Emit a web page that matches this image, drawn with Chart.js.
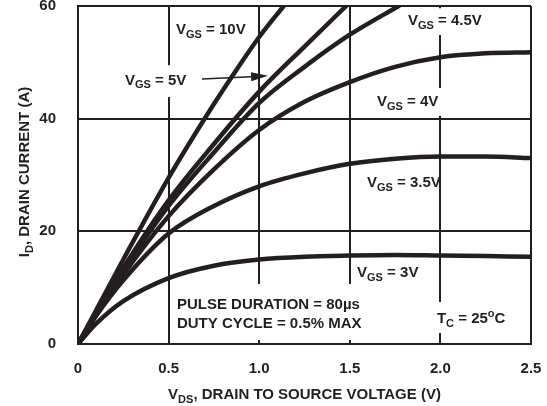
<!DOCTYPE html>
<html>
<head>
<meta charset="utf-8">
<script src="https://cdn.jsdelivr.net/npm/chart.js@4.4.1/dist/chart.umd.min.js"></script>
<style>
  html, body { margin: 0; padding: 0; background: #fff; }
  #wrap { width: 547px; height: 406px; position: relative; }
</style>
</head>
<body>
<div id="wrap"><canvas id="idChart"></canvas></div>
<script>
// --- data ---
const xTicks = [0, 0.5, 1.0, 1.5, 2.0, 2.5];
const xTickLabels = ['0', '0.5', '1.0', '1.5', '2.0', '2.5'];
const yTicks = [0, 20, 40, 60];

// curves that stay inside the plot share one VDS grid
const vds = [0, 0.1, 0.25, 0.5, 0.75, 1.0, 1.25, 1.5, 1.75, 2.0, 2.25, 2.5];
const id3V = [0, 3.6, 7.6, 11.7, 13.9, 15.0, 15.5, 15.7, 15.8, 15.7, 15.6, 15.5];
const id35V = [0, 5, 11.3, 19.6, 24.5, 28, 30.3, 32, 32.9, 33.3, 33.3, 33];
const id4V = [0, 5.1, 12.3, 22.7, 31, 38, 43, 46.5, 49.2, 50.9, 51.6, 51.8];

// curves that leave through the top
const vds45V = [0, 0.1, 0.25, 0.5, 0.75, 1.0, 1.25, 1.5, 1.77];
const id45V = [0, 5.3, 13, 24.5, 34, 42.8, 49.2, 54.9, 60];
const vds5V = [0, 0.1, 0.25, 0.5, 0.75, 1.0, 1.25, 1.48];
const id5V = [0, 5.5, 13.5, 25.5, 35.5, 44.8, 52.8, 60];
const vds10V = [0, 0.1, 0.25, 0.5, 0.75, 0.875, 1.0, 1.135];
const id10V = [0, 6, 15, 29.5, 42.6, 48.7, 54.5, 60];

const INK = '#231f20';
const FONT = '"Liberation Sans", Arial, Helvetica, sans-serif';

// text notes, [text, mode] with mode 0 normal, 1 subscript, 2 superscript
// x, y = left end / baseline in data units; box = white patch that cuts the grid
const notes = [
    { parts: [['V', 0], ['GS', 1], [' = 10V', 0]], x: 0.541, y: 55.0 },
    { parts: [['V', 0], ['GS', 1], [' = 5V', 0]], x: 0.259, y: 46.0, box: [0.232, 43.85, 0.673, 49.5] },
    { parts: [['V', 0], ['GS', 1], [' = 4.5V', 0]], x: 1.821, y: 56.6, box: [1.80, 54.85, 2.25, 59.6] },
    { parts: [['V', 0], ['GS', 1], [' = 4V', 0]], x: 1.650, y: 42.25, box: [1.634, 40.5, 2.031, 45.45] },
    { parts: [['V', 0], ['GS', 1], [' = 3.5V', 0]], x: 1.595, y: 27.87 },
    { parts: [['V', 0], ['GS', 1], [' = 3V', 0]], x: 1.540, y: 11.89 },
    { parts: [['PULSE DURATION = 80µs', 0]], x: 0.546, y: 6.21, box: [0.524, 0.71, 1.617, 10.65] },
    { parts: [['DUTY CYCLE = 0.5% MAX', 0]], x: 0.546, y: 2.84 },
    { parts: [['T', 0], ['C', 1], [' = 25', 0], ['o', 2], ['C', 0]], x: 1.981, y: 3.73, box: [1.959, 1.95, 2.406, 7.46] }
];
const arrow5V = { from: [0.684, 47.05], to: [1.049, 47.6] };

function drawRich(ctx, parts, x, y, size) {
    let cx = x;
    parts.forEach(([t, m]) => {
        const fs = m ? Math.round(size * 0.74) : size;
        ctx.font = `bold ${fs}px ${FONT}`;
        const dy = m === 1 ? size * 0.24 : (m === 2 ? -size * 0.4 : 0);
        ctx.fillText(t, cx, y + dy);
        cx += ctx.measureText(t).width;
    });
    return cx - x;
}

function richWidth(ctx, parts, size) {
    let w = 0;
    parts.forEach(([t, m]) => {
        ctx.font = `bold ${m ? Math.round(size * 0.74) : size}px ${FONT}`;
        w += ctx.measureText(t).width;
    });
    return w;
}

const notesPlugin = {
    id: 'notes',
    beforeDatasetsDraw(chart) {
        const { ctx, scales: { x, y } } = chart;
        ctx.save();
        ctx.fillStyle = '#fff';
        notes.filter(n => n.box).forEach(n => {
            const [x0, y0, x1, y1] = n.box;
            const l = x.getPixelForValue(x0), r = x.getPixelForValue(x1);
            const t = y.getPixelForValue(y1), b = y.getPixelForValue(y0);
            ctx.fillRect(l, t, r - l, b - t);
        });
        ctx.restore();
    },
    afterDatasetsDraw(chart) {
        const { ctx, chartArea: a, scales: { x, y } } = chart;
        ctx.save();
        ctx.fillStyle = INK;
        ctx.textBaseline = 'alphabetic';
        ctx.textAlign = 'left';
        notes.forEach(n => drawRich(ctx, n.parts, x.getPixelForValue(n.x), y.getPixelForValue(n.y), 15));

        // arrow towards the 5V curve
        const ax0 = x.getPixelForValue(arrow5V.from[0]), ay0 = y.getPixelForValue(arrow5V.from[1]);
        const ax1 = x.getPixelForValue(arrow5V.to[0]), ay1 = y.getPixelForValue(arrow5V.to[1]);
        const ang = Math.atan2(ay1 - ay0, ax1 - ax0);
        const hl = 17, hw = 4.5;
        ctx.strokeStyle = INK;
        ctx.lineWidth = 1.5;
        ctx.beginPath();
        ctx.moveTo(ax0, ay0);
        ctx.lineTo(ax1 - hl * Math.cos(ang), ay1 - hl * Math.sin(ang));
        ctx.stroke();
        ctx.beginPath();
        ctx.moveTo(ax1, ay1);
        ctx.lineTo(ax1 - hl * Math.cos(ang) - hw * Math.sin(ang), ay1 - hl * Math.sin(ang) + hw * Math.cos(ang));
        ctx.lineTo(ax1 - hl * Math.cos(ang) + hw * Math.sin(ang), ay1 - hl * Math.sin(ang) - hw * Math.cos(ang));
        ctx.closePath();
        ctx.fill();

        // axis titles (with subscripts)
        const xt = [['V', 0], ['DS', 1], [', DRAIN TO SOURCE VOLTAGE (V)', 0]];
        const wx = richWidth(ctx, xt, 15);
        drawRich(ctx, xt, (a.left + a.right) / 2 - wx / 2, a.bottom + 55, 15);

        const yt = [['I', 0], ['D', 1], [', DRAIN CURRENT (A)', 0]];
        const wy = richWidth(ctx, yt, 15);
        ctx.translate(a.left - 49, (a.top + a.bottom) / 2 - 3);
        ctx.rotate(-Math.PI / 2);
        drawRich(ctx, yt, -wy / 2, 0, 15);
        ctx.restore();
    }
};

function curve(xs, ys) {
    return xs.map((v, i) => ({ x: v, y: ys[i] }));
}

const lineStyle = {
    showLine: true,
    borderColor: INK,
    backgroundColor: INK,
    borderWidth: 4.5,
    pointRadius: 0,
    cubicInterpolationMode: 'monotone',
    borderCapStyle: 'round'
};

const ctx = document.getElementById('idChart').getContext('2d');
new Chart(ctx, {
    type: 'scatter',
    data: {
        datasets: [
            { label: 'VGS = 10V', data: curve(vds10V, id10V), ...lineStyle },
            { label: 'VGS = 5V', data: curve(vds5V, id5V), ...lineStyle },
            { label: 'VGS = 4.5V', data: curve(vds45V, id45V), ...lineStyle },
            { label: 'VGS = 4V', data: curve(vds, id4V), ...lineStyle },
            { label: 'VGS = 3.5V', data: curve(vds, id35V), ...lineStyle },
            { label: 'VGS = 3V', data: curve(vds, id3V), ...lineStyle }
        ]
    },
    options: {
        responsive: true,
        maintainAspectRatio: false,
        animation: false,
        layout: { padding: { top: 6, right: 16, left: 0, bottom: 0 } },
        plugins: { legend: { display: false }, tooltip: { enabled: false } },
        scales: {
            x: {
                type: 'linear', min: 0, max: 2.5,
                afterBuildTicks: s => { s.ticks = xTicks.map(v => ({ value: v })); },
                afterFit: s => { s.height = 62; s.paddingLeft = 0; s.paddingRight = 0; },
                ticks: {
                    color: INK, padding: 16, maxRotation: 0,
                    font: { family: FONT, size: 15, weight: 'bold' },
                    callback: (v) => xTickLabels[xTicks.indexOf(v)] ?? ''
                },
                grid: { color: INK, lineWidth: 2, drawTicks: false },
                border: { color: INK, width: 2 }
            },
            y: {
                type: 'linear', min: 0, max: 60,
                afterBuildTicks: s => { s.ticks = yTicks.map(v => ({ value: v })); },
                afterFit: s => { s.width = 78; s.paddingTop = 0; s.paddingBottom = 0; },
                ticks: {
                    color: INK, padding: 22,
                    font: { family: FONT, size: 15, weight: 'bold' }
                },
                grid: { color: INK, lineWidth: 2, drawTicks: false },
                border: { color: INK, width: 2 }
            }
        }
    },
    plugins: [notesPlugin]
});
</script>
</body>
</html>
